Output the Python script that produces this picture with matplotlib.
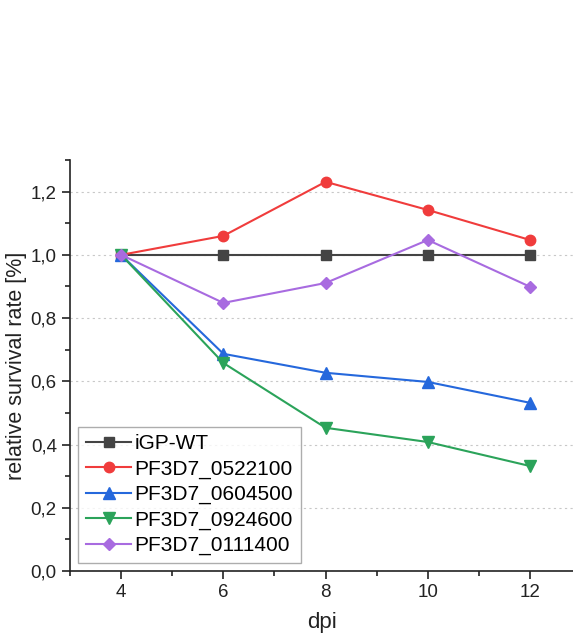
import matplotlib
matplotlib.use("Agg")
import matplotlib.pyplot as plt
from matplotlib.ticker import MultipleLocator, FuncFormatter

dpi_vals = [4, 6, 8, 10, 12]
labels = ["iGP-WT", "PF3D7_0522100", "PF3D7_0604500", "PF3D7_0924600", "PF3D7_0111400"]
wt = [1.0, 1.0, 1.0, 1.0, 1.0]
s0522100 = [1.0, 1.06, 1.231, 1.142, 1.047]
s0604500 = [1.0, 0.687, 0.627, 0.598, 0.532]
s0924600 = [1.0, 0.658, 0.453, 0.408, 0.332]
s0111400 = [1.0, 0.848, 0.911, 1.047, 0.899]

series = [wt, s0522100, s0604500, s0924600, s0111400]
colors = ["#444444", "#f03c3c", "#2568dc", "#2ba35a", "#a86be0"]
markers = ["s", "o", "^", "v", "D"]
msizes = [6.5, 7.5, 8, 8, 6.5]

plt.rcParams['font.family'] = ['Liberation Sans', 'DejaVu Sans']

fig = plt.figure(figsize=(5.73, 6.39), dpi=100)
ax = fig.add_axes([0.1222, 0.1064, 0.8778, 0.6432])

for y, c, m, ms, lab in zip(series, colors, markers, msizes, labels):
    ax.plot(dpi_vals, y, color=c, marker=m, markersize=ms, linewidth=1.5, label=lab)

ax.set_xlim(3, 12.84)
ax.set_ylim(0, 1.3)
ax.xaxis.set_major_locator(MultipleLocator(2))
ax.xaxis.set_minor_locator(MultipleLocator(1))
ax.yaxis.set_major_locator(MultipleLocator(0.2))
ax.yaxis.set_minor_locator(MultipleLocator(0.1))
ax.yaxis.set_major_formatter(FuncFormatter(lambda v, p: f"{v:.1f}".replace(".", ",")))
ax.grid(axis='y', which='major', linestyle=(0, (2, 3)), color='#c8c8c8', linewidth=0.8)
ax.set_axisbelow(True)
for s in ['top', 'right']:
    ax.spines[s].set_visible(False)
for s in ['left', 'bottom']:
    ax.spines[s].set_linewidth(1.2)
    ax.spines[s].set_color('#222222')
ax.tick_params(which='major', length=6, width=1.2, labelsize=13.5, color='#222222', labelcolor='#222222')
ax.tick_params(which='minor', length=3.5, width=1.2, color='#222222')
ax.set_xlabel("dpi", fontsize=16, color='#222222', labelpad=8)
ax.set_ylabel("relative survival rate [%]", fontsize=15.5, color='#222222', labelpad=3)

leg = ax.legend(loc='lower left', fontsize=15, frameon=True, fancybox=False,
                edgecolor='#999999', handlelength=2.2, labelspacing=0.3,
                borderpad=0.35, handletextpad=0.15, borderaxespad=0.4)
leg.get_frame().set_linewidth(1.0)

fig.savefig("out.png", dpi=100)
